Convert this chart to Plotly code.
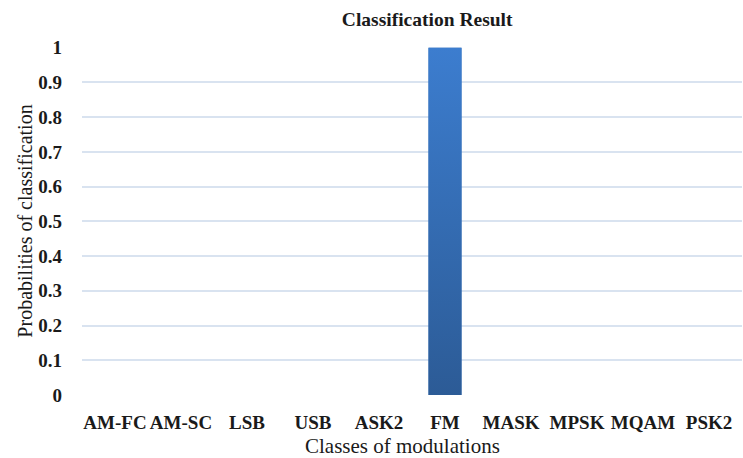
import plotly.graph_objects as go

# Modulation classes and predicted probabilities
classes = ["AM-FC", "AM-SC", "LSB", "USB", "ASK2", "FM", "MASK", "MPSK", "MQAM", "PSK2"]
probabilities = [0, 0, 0, 0, 0, 1, 0, 0, 0, 0]
y_ticks = [0, 0.1, 0.2, 0.3, 0.4, 0.5, 0.6, 0.7, 0.8, 0.9, 1]
y_tick_text = ["0", "0.1", "0.2", "0.3", "0.4", "0.5", "0.6", "0.7", "0.8", "0.9", "1"]

positions = list(range(len(classes)))
bar_width = 0.5
serif = "Liberation Serif"
ink = "#1a1a1a"

fig = go.Figure()

# Base bars
fig.add_trace(go.Bar(
    x=positions, y=probabilities, width=bar_width,
    marker=dict(color="#3470b8", line=dict(width=0)),
    hoverinfo="x+y", showlegend=False,
))

# Vertical gradient fill over each non-zero bar
for xi, p in zip(positions, probabilities):
    if p <= 0:
        continue
    half = bar_width / 2
    fig.add_trace(go.Scatter(
        x=[xi - half, xi + half, xi + half, xi - half, xi - half],
        y=[0, 0, p, p, 0],
        mode="lines", fill="toself",
        line=dict(width=0, color="rgba(0,0,0,0)"),
        fillgradient=dict(type="vertical",
                          colorscale=[[0, "#2c5b96"], [1, "#3c7dcf"]]),
        hoverinfo="skip", showlegend=False,
    ))

fig.update_layout(
    width=743, height=458,
    margin=dict(l=82, r=1, t=47, b=63),
    paper_bgcolor="white", plot_bgcolor="white",
    title=dict(text="<b>Classification Result</b>", x=0.523, xref="paper",
               xanchor="center", y=0.958, yanchor="middle",
               font=dict(family=serif, size=19.5, color=ink)),
    xaxis=dict(
        range=[-0.5, len(classes) - 0.5],
        tickmode="array", tickvals=positions,
        ticktext=[f"<b>{c}</b>" for c in classes],
        tickfont=dict(family=serif, size=19, color=ink),
        showgrid=False, zeroline=False, showline=False, ticks="",
        ticklabelstandoff=14,
    ),
    yaxis=dict(
        range=[0, 1.002],
        tickmode="array", tickvals=y_ticks,
        ticktext=[f"<b>{t}</b>" for t in y_tick_text],
        tickfont=dict(family=serif, size=19, color=ink),
        showgrid=True, gridcolor="#d9e3f0", gridwidth=1.5,
        zeroline=False, showline=False, ticks="",
        ticklabelstandoff=19,
        title=dict(text="Probabilities of classification",
                   font=dict(family=serif, size=20, color=ink),
                   standoff=0),
    ),
    bargap=0.5,
    annotations=[dict(
        text="Classes of modulations", xref="paper", yref="paper",
        x=0.485, y=-0.147, xanchor="center", yanchor="middle",
        showarrow=False, font=dict(family=serif, size=21, color=ink),
    )],
)

fig.write_html("out.html")
